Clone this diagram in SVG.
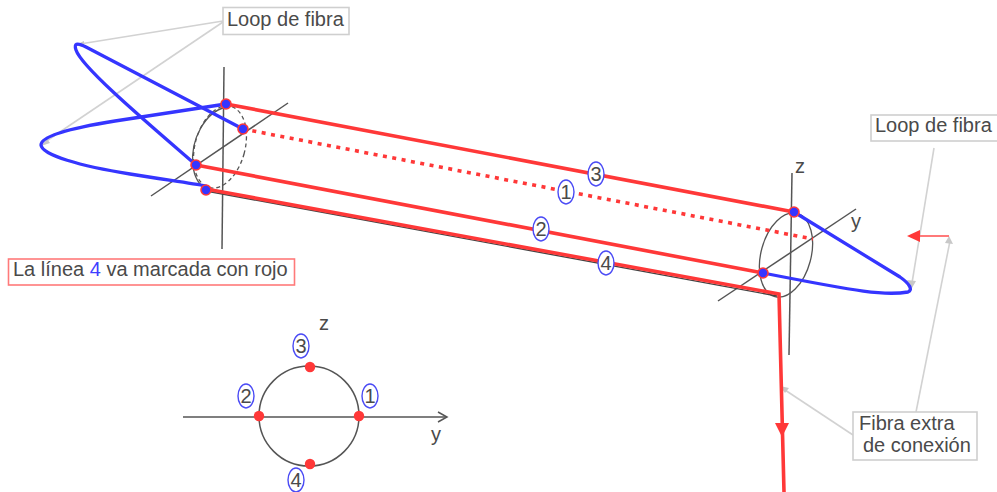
<svg xmlns="http://www.w3.org/2000/svg" width="997" height="492" viewBox="0 0 997 492">
<style>
text{font-family:"Liberation Sans",Arial,sans-serif;fill:#4a4a4a;font-size:20px}
.ax{fill:none;stroke:#555;stroke-width:1.5}
.el{fill:none;stroke:#555;stroke-width:1.3}
.da{fill:none;stroke:#555;stroke-width:1.3;stroke-dasharray:4 3}
.red{fill:none;stroke:#ff3838;stroke-width:3.6;stroke-linejoin:miter}
.dot{fill:none;stroke:#ff3838;stroke-width:3.6;stroke-dasharray:4 5.500}
.blue{fill:none;stroke:#3535ff;stroke-width:3.3;stroke-linecap:round}
.grey{fill:none;stroke:#d2d2d2;stroke-width:1.6}
.ghead{fill:#c8c8c8}
.box{fill:#fff;stroke:#cfcfcf;stroke-width:1.6}
.node{fill:#3535ff;stroke:#ff3838;stroke-width:1.6}
.rd{fill:#ff3838}
.bub{fill:#fff;stroke:#4a4af5;stroke-width:1.4}
.n{text-anchor:middle}
</style>
<defs>
<marker id="open" markerUnits="userSpaceOnUse" markerWidth="12" markerHeight="12" refX="10" refY="6" orient="auto"><path d="M1,1 L10,6 L1,11" fill="none" stroke="#555" stroke-width="1.5"/></marker>
</defs>
<g id="connectors">
<path class="ax" d="M224,67 L222,249"/>
<path class="ax" d="M288,103 L151,196"/>
<path class="ax" d="M792,173 L789,355"/>
<path class="ax" d="M856,209 L718,301"/>
<ellipse class="da" cx="220" cy="147" rx="25" ry="42" transform="rotate(15 220 147)"/>
<path class="el" d="M226,107 C205,112 190,140 193,165 C194,178 200,186 206,188"/>
<ellipse class="el" cx="786" cy="255" rx="25" ry="43" transform="rotate(15 786 255)"/>
<path d="M206,191 L777,296" fill="none" stroke="#444" stroke-width="1.4"/>
<path class="grey" d="M223,21 L80,44"/>
<path class="grey" d="M223,22 L45,142"/>
<path class="ghead" d="M75,45 L84,41 L84,47 Z"/>
<path class="ghead" d="M41,146 L47,139 L50,143 Z"/>
<path class="grey" d="M934,148 L912,283"/>
<path class="ghead" d="M912,288 L907,280 L916,281 Z"/>
<path class="grey" d="M950,241 L916,412"/>
<path class="ghead" d="M949,236 L953,244 L945,243 Z"/>
<path class="grey" d="M853,435 L785,390"/>
<path class="ghead" d="M780,386 L789,388 L785,393 Z"/>
<path class="blue" d="M243,129 L86,47 C76,42 74,44 76,50 C82,68 150,125 196,165"/>
<path class="blue" d="M226,104 L115,121 C65,129 41,137 41,145 C42,155 80,166 130,174 C160,179 190,183 206,186"/>
<path class="blue" d="M794,212 L900,277 C910,284 913,290 908,292 C885,296 860,292 763,273"/>
<path class="red" d="M226,104 L794,212"/>
<path class="dot" d="M243,129 L813,239"/>
<path class="red" d="M196,165 L763,273"/>
<path class="red" d="M206,189 L779,294 L784,492"/>
<path class="rd" d="M775,423 L789,423 L782,437 Z"/>
<path d="M920,236 L949,236" fill="none" stroke="#ff6a6a" stroke-width="1.8"/>
<path class="rd" d="M907,236 L920,230 L920,242 Z"/>
<path d="M183,417 L447,417" fill="none" stroke="#555" stroke-width="1.6" marker-end="url(#open)"/>
</g>
<g id="node-a"><circle class="node" cx="226" cy="104" r="5"/></g>
<g id="node-b"><circle class="node" cx="243" cy="129" r="5"/></g>
<g id="node-c"><circle class="node" cx="196" cy="165" r="5"/></g>
<g id="node-d"><circle class="node" cx="206" cy="190" r="5"/></g>
<g id="node-e"><circle class="node" cx="794" cy="212" r="5"/></g>
<g id="node-f"><circle class="node" cx="763" cy="273" r="5"/></g>
<g id="label-loop-1"><rect class="box" x="223" y="7.500" width="126" height="27"/><text x="227" y="26">Loop de fibra</text></g>
<g id="label-loop-2"><rect class="box" x="871" y="115" width="127" height="26"/><text x="875" y="132">Loop de fibra</text></g>
<g id="label-fibra"><rect class="box" x="853" y="412" width="124" height="48"/><text x="859" y="430">Fibra extra</text><text x="863" y="452">de conexión</text></g>
<g id="label-linea"><rect x="8.500" y="259" width="286" height="26" fill="#fff" stroke="#ff7a7a" stroke-width="1.6"/><text x="13" y="276">La línea <tspan fill="#3f3fff">4</tspan> va marcada con rojo</text></g>
<g id="bubble-3"><ellipse class="bub" cx="596" cy="174" rx="8" ry="12"/><text class="n" x="596" y="181">3</text></g>
<g id="bubble-1"><ellipse class="bub" cx="566" cy="192" rx="8" ry="12"/><text class="n" x="566" y="199">1</text></g>
<g id="bubble-2"><ellipse class="bub" cx="541" cy="229" rx="8" ry="12"/><text class="n" x="541" y="236">2</text></g>
<g id="bubble-4"><ellipse class="bub" cx="606" cy="263" rx="8" ry="12"/><text class="n" x="606" y="270">4</text></g>
<g id="axis-labels"><text x="795" y="173">z</text><text x="851" y="228">y</text><text x="319" y="330">z</text><text x="431" y="441">y</text></g>
<g id="section">
<circle class="el" cx="309" cy="416" r="50" style="stroke-width:1.5"/>
<circle class="rd" cx="310" cy="367" r="5.200"/>
<circle class="rd" cx="259" cy="416" r="5.200"/>
<circle class="rd" cx="359" cy="416" r="5.200"/>
<circle class="rd" cx="310" cy="464" r="5.200"/>
</g>
<g id="sec-bubble-3"><ellipse class="bub" cx="301" cy="346" rx="8" ry="12"/><text class="n" x="301" y="353">3</text></g>
<g id="sec-bubble-1"><ellipse class="bub" cx="370" cy="396" rx="8" ry="12"/><text class="n" x="370" y="403">1</text></g>
<g id="sec-bubble-2"><ellipse class="bub" cx="246" cy="396" rx="8" ry="12"/><text class="n" x="246" y="403">2</text></g>
<g id="sec-bubble-4"><ellipse class="bub" cx="296" cy="480" rx="8" ry="12"/><text class="n" x="296" y="487">4</text></g>
</svg>
